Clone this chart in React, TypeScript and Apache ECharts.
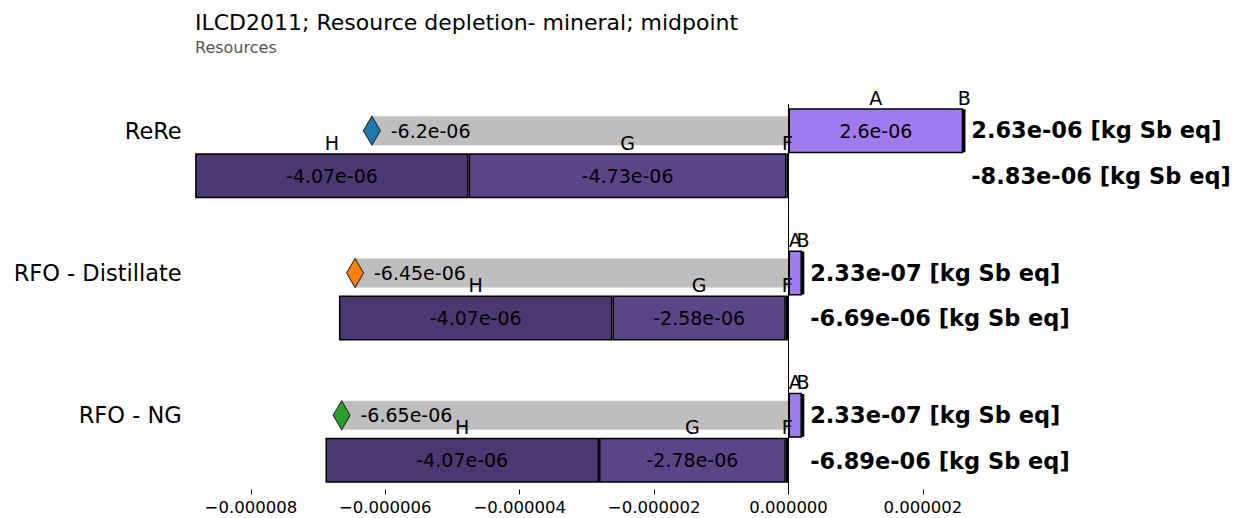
import React, { useEffect, useRef } from "react";
import * as echarts from "echarts";

const categories = ["ReRe", "RFO - Distillate", "RFO - NG"];
const segA = [2.6e-6, 2.0e-7, 2.0e-7];
const segB = [3e-8, 3.3e-8, 3.3e-8];
const segF = [-3e-8, -4e-8, -4e-8];
const segG = [-4.73e-6, -2.58e-6, -2.78e-6];
const segH = [-4.07e-6, -4.07e-6, -4.07e-6];
const netValues = [-6.2e-6, -6.45e-6, -6.65e-6];
const posTotals = [2.63e-6, 2.33e-7, 2.33e-7];
const negTotals = [-8.83e-6, -6.69e-6, -6.89e-6];
const tickValues = [-8e-6, -6e-6, -4e-6, -2e-6, 0, 2e-6];
const netColors = ["#1f77b4", "#ff7f0e", "#2ca02c"];
const unit = "[kg Sb eq]";

const FONT = "DejaVu Sans";

function fmt(v: number): string {
  const s = v.toExponential(2);
  let [m, e] = s.split("e");
  if (m.includes(".")) m = m.replace(/0+$/, "").replace(/\.$/, "");
  const sign = e[0] === "-" ? "-" : "+";
  let digits = e.replace(/^[+-]/, "");
  if (digits.length < 2) digits = "0" + digits;
  return m + "e" + sign + digits;
}

function segSeries(name: string, letter: string, values: number[], color: string, stack: string, border = 1.5) {
  return {
    type: "bar",
    name,
    stack,
    yAxisIndex: 0,
    barWidth: 45,
    barGap: "0%",
    barCategoryGap: "0%",
    data: values,
    itemStyle: { color, borderColor: "#000", borderWidth: border },
    label: {
      show: true,
      position: "inside",
      formatter: (p: any) => {
        const v = values[p.dataIndex];
        const val = Math.abs(v) >= 1e-6 ? fmt(v) : " ";
        return `{l|${letter}}\n{v|${val}}\n{e| }`;
      },
      rich: {
        l: { fontSize: 19, lineHeight: 33, color: "#000", fontFamily: FONT },
        v: { fontSize: 19, lineHeight: 33, color: "#000", fontFamily: FONT },
        e: { fontSize: 19, lineHeight: 33 },
      },
    },
    z: 3,
  };
}

export default function App() {
  const ref = useRef<HTMLDivElement>(null);
  useEffect(() => {
    const chart = echarts.init(ref.current!, undefined, { renderer: "svg" });
    const option: any = {
      animation: false,
      textStyle: { fontFamily: FONT },
      title: {
        text: "ILCD2011; Resource depletion- mineral; midpoint",
        subtext: "Resources",
        left: 190,
        top: 6,
        itemGap: 6,
        textStyle: { fontSize: 22, fontWeight: "normal", color: "#000", fontFamily: FONT },
        subtextStyle: { fontSize: 16, color: "#555", fontFamily: FONT },
      },
      grid: { left: 183.7, right: 245.9, top: 82, height: 427, outerBoundsMode: "none" },
      xAxis: {
        type: "value",
        min: -9e-6,
        max: 3e-6,
        offset: -19.5,
        splitLine: { show: false },
        axisLine: { show: false },
        axisTick: { show: true, length: 5, lineStyle: { color: "#000", width: 1 }, customValues: tickValues },
        axisLabel: {
          customValues: tickValues,
          fontSize: 16.5,
          color: "#000",
          margin: 9,
          fontFamily: FONT,
          formatter: (v: number) => (v < 0 ? "\u2212" : "") + Math.abs(v).toFixed(6),
        },
      },
      yAxis: [
        {
          type: "category",
          data: categories,
          inverse: true,
          axisLine: { show: false },
          axisTick: { show: false },
          axisLabel: {
            margin: 2,
            formatter: (v: string) => `{c|${v}}`,
            rich: { c: { fontSize: 22.5, color: "#000", fontFamily: FONT, padding: [0, 0, 45, 0] } },
          },
        },
        {
          type: "category",
          data: categories,
          inverse: true,
          show: false,
        },
      ],
      series: [
        {
          ...segSeries("A", "A", segA, "#9f7bef", "pos"),
          markLine: {
            silent: true,
            symbol: ["none", "none"],
            label: { show: false },
            lineStyle: { color: "#000", width: 1, type: "solid" },
            data: [[{ xAxis: 0, y: 104 }, { xAxis: 0, y: 490 }]],
          },
        },
        segSeries("B", "B", segB, "#9f7bef", "pos", 2.5),
        segSeries("F", "F", segF, "#5a4588", "neg", 2),
        segSeries("G", "G", segG, "#5a4588", "neg"),
        segSeries("H", "H", segH, "#4b3871", "neg"),
        {
          type: "bar",
          name: "net",
          yAxisIndex: 1,
          barWidth: 29,
          barGap: "0%",
          data: netValues,
          itemStyle: { color: "#bebebe" },
          z: 1,
        },
        {
          type: "bar",
          name: "dummy",
          yAxisIndex: 1,
          barWidth: 45,
          barGap: "0%",
          data: [null, null, null],
        },
        {
          type: "scatter",
          name: "netMarker",
          yAxisIndex: 1,
          symbol: "diamond",
          symbolSize: [17, 29],
          symbolOffset: [0, -22.5],
          data: netValues.map((v, i) => ({
            value: [v, categories[i]],
            itemStyle: { color: netColors[i], borderColor: "#222", borderWidth: 1, opacity: 1 },
          })),
          label: {
            show: true,
            position: "right",
            distance: 10,
            fontSize: 19,
            color: "#000",
            fontFamily: FONT,
            formatter: (p: any) => fmt(netValues[p.dataIndex]),
          },
          z: 4,
        },
        {
          type: "scatter",
          name: "totals",
          yAxisIndex: 0,
          symbolSize: 0,
          itemStyle: { color: "#000", opacity: 1 },
          data: posTotals.map((v, i) => [v, categories[i]]),
          label: {
            show: true,
            position: "right",
            distance: 6,
            color: "#000",
            opacity: 1,
            formatter: (p: any) =>
              `{t|${fmt(posTotals[p.dataIndex])} ${unit}}\n{t|${fmt(negTotals[p.dataIndex])} ${unit}}`,
            rich: { t: { fontSize: 22.5, fontWeight: "bold", color: "#000", fontFamily: FONT, lineHeight: 45.5 } },
          },
          z: 4,
        },
      ],
    };
    chart.setOption(option);
    return () => chart.dispose();
  }, []);
  return (
    <div
      ref={ref}
      style={{ position: "fixed", left: 0, top: 0, width: 1236, height: 518, background: "#fff" }}
    />
  );
}
